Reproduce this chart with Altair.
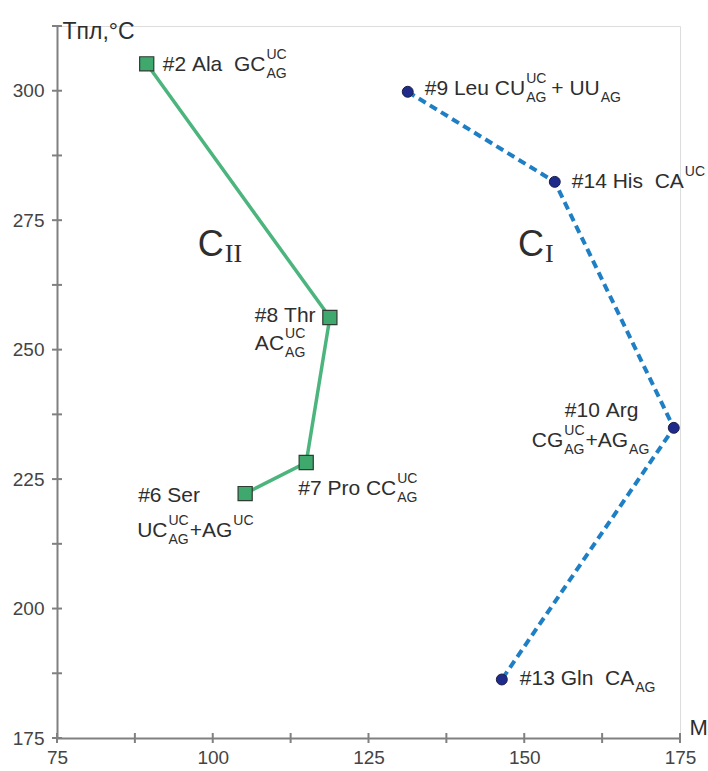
import altair as alt
import pandas as pd

# ---- data ----
green_names = ["#2 Ala", "#8 Thr", "#7 Pro", "#6 Ser"]
green_mass = [89.4, 118.8, 115.0, 105.2]
green_tm = [305.2, 256.2, 228.2, 222.2]

blue_names = ["#9 Leu", "#14 His", "#10 Arg", "#13 Gln"]
blue_mass = [131.3, 154.9, 174.0, 146.4]
blue_tm = [299.8, 282.4, 234.9, 186.3]

x_labels = [75, 100, 125, 150, 175]
x_ticks = [75, 87.5, 100, 112.5, 125, 137.5, 150, 162.5, 175]
y_labels = [175, 200, 225, 250, 275, 300]
y_ticks = [175, 187.5, 200, 212.5, 225, 237.5, 250, 262.5, 275, 287.5, 300, 312.5]

cluster_main = ["C", "C"]
cluster_sub = ["II", "I"]
cluster_x = [97.6, 149.0]
cluster_y = [268.0, 268.0]

# rich labels: (offset x px, baseline offset y px, segments)
label_lines = {
    "#2 Ala": [(16, 7, [("n", "#2 Ala  GC"), ("ss", "UC", "AG")])],
    "#8 Thr": [(-75, 4, [("n", "#8 Thr")]),
               (-75, 32, [("n", "AC"), ("ss", "UC", "AG")])],
    "#7 Pro": [(-8, 32, [("n", "#7 Pro CC"), ("ss", "UC", "AG")])],
    "#6 Ser": [(-107, 8, [("n", "#6 Ser")]),
               (-108, 43, [("n", "UC"), ("ss", "UC", "AG"), ("n", "+AG"), ("ss", "UC", "")])],
    "#9 Leu": [(17, 3, [("n", "#9 Leu CU"), ("ss", "UC", "AG"), ("g", 4), ("n", "+ UU"), ("ss", "", "AG")])],
    "#14 His": [(17, 6, [("n", "#14 His  CA"), ("ss", "UC", "")])],
    "#10 Arg": [(-109, -11, [("n", "#10 Arg")]),
                (-142, 19, [("n", "CG"), ("ss", "UC", "AG"), ("n", "+AG"), ("ss", "", "AG")])],
    "#13 Gln": [(18, 6, [("n", "#13 Gln  CA"), ("ss", "", "AG")])],
}

# ---- styles ----
FONT = "Liberation Sans"
TEXT = "#2e2e2e"
AXIS = "#808080"
GREEN_LINE = "#4cb57e"
GREEN_FILL = "#3fa86c"
BLUE_LINE = "#1e7fc4"
BLUE_FILL = "#1f2b8a"
MAIN = 21
SMALL = 14

W, H = 623, 712

CHAR_W = {' ': 278, '#': 556, '+': 584, 'A': 667, 'C': 722, 'G': 778, 'U': 722,
          'L': 556, 'T': 611, 'P': 667, 'S': 667, 'H': 722, 'R': 722,
          'e': 556, 'u': 556, 'l': 222, 'a': 556, 'h': 556, 'r': 333, 'o': 556,
          'i': 222, 's': 500, 'n': 556, 'g': 556}


def text_width(s, size):
    return sum(CHAR_W.get(c, 556) for c in s) * size / 1000.0


xscale = alt.Scale(domain=[75, 175], nice=False, zero=False)
yscale = alt.Scale(domain=[175, 312.5], nice=False, zero=False)

xaxis = alt.Axis(values=x_labels, ticks=False, tickSize=0, grid=False,
                 domainColor=AXIS, domainWidth=2,
                 labelFont=FONT, labelFontSize=19, labelColor="#444444",
                 labelPadding=10, labelFlush=False,
                 title="M", titleFont=FONT, titleFontSize=22, titleFontWeight="normal",
                 titleColor=TEXT, titleAngle=0, titleX=632, titleY=-4,
                 titleAlign="left", titleBaseline="alphabetic")
yaxis = alt.Axis(values=y_labels, ticks=False, tickSize=0, grid=False,
                 domainColor=AXIS, domainWidth=2,
                 labelFont=FONT, labelFontSize=19, labelColor="#444444",
                 labelPadding=13, labelFlush=False,
                 title="Tпл,°C", titleFont=FONT, titleFontSize=23, titleFontWeight="normal",
                 titleColor=TEXT, titleAngle=0, titleX=5, titleY=12,
                 titleAlign="left", titleBaseline="alphabetic")

X = alt.X("m:Q", scale=xscale, axis=xaxis)
Y = alt.Y("t:Q", scale=yscale, axis=yaxis)

green_df = pd.DataFrame({"name": green_names, "m": green_mass, "t": green_tm,
                         "i": list(range(len(green_names)))})
blue_df = pd.DataFrame({"name": blue_names, "m": blue_mass, "t": blue_tm,
                        "i": list(range(len(blue_names)))})

layers = []

# axis ticks crossing the axis lines
layers.append(alt.Chart(pd.DataFrame({"m": x_ticks})).mark_tick(
    orient="vertical", size=10, thickness=2, color=AXIS, opacity=1
).encode(x=X, y=alt.value(H)))
layers.append(alt.Chart(pd.DataFrame({"t": y_ticks})).mark_tick(
    orient="horizontal", size=10, thickness=2, color=AXIS, opacity=1
).encode(y=Y, x=alt.value(0)))

# lines
layers.append(alt.Chart(green_df).mark_line(color=GREEN_LINE, strokeWidth=3.5).encode(
    x=X, y=Y, order="i:O"))
layers.append(alt.Chart(blue_df).mark_line(color=BLUE_LINE, strokeWidth=4,
                                           strokeDash=[8, 5]).encode(
    x=X, y=Y, order="i:O"))

# points
layers.append(alt.Chart(green_df).mark_square(size=200, fill=GREEN_FILL, stroke="#2f3b33",
                                              strokeWidth=1.2, opacity=1).encode(x=X, y=Y))
layers.append(alt.Chart(blue_df).mark_point(shape="circle", filled=True, size=120,
                                            fill=BLUE_FILL, stroke="#1a1f4a",
                                            strokeWidth=1, opacity=1).encode(x=X, y=Y))


def frag(x, y, s, dx, dy, size, font=FONT):
    s = s.replace(" ", "\u00a0")
    return alt.Chart(pd.DataFrame({"m": [x], "t": [y], "s": [s]})).mark_text(
        align="left", baseline="alphabetic", dx=dx, dy=dy, fontSize=size,
        font=font, color=TEXT
    ).encode(x=X, y=Y, text="s:N")


all_pts = list(zip(green_names, green_mass, green_tm)) + list(zip(blue_names, blue_mass, blue_tm))
for name, mx, ty in all_pts:
    for ox, oy, segs in label_lines[name]:
        cx = ox
        for seg in segs:
            if seg[0] == "n":
                layers.append(frag(mx, ty, seg[1], cx, oy, MAIN))
                cx += text_width(seg[1], MAIN)
            elif seg[0] == "g":
                cx += seg[1]
            else:
                sup, sub = seg[1], seg[2]
                w = 0
                if sup:
                    layers.append(frag(mx, ty, sup, cx + 1, oy - 12, SMALL))
                    w = max(w, text_width(sup, SMALL))
                if sub:
                    layers.append(frag(mx, ty, sub, cx + 1, oy + 7, SMALL))
                    w = max(w, text_width(sub, SMALL))
                cx += w + 2

# cluster labels C_II, C_I
for cm, cs, cxv, cyv in zip(cluster_main, cluster_sub, cluster_x, cluster_y):
    layers.append(frag(cxv, cyv, cm, 0, 0, 36))
    layers.append(frag(cxv, cyv, cs, 27, 6, 26, font="Liberation Serif"))

chart = alt.layer(*layers).properties(
    width=W, height=H,
    padding={"left": 57, "top": 26, "right": 28, "bottom": 33},
    autosize=alt.AutoSizeParams(type="none"),
).configure_view(stroke=None).configure(background="white")

chart.save("out.html", embed_options={"renderer": "svg", "actions": False})
